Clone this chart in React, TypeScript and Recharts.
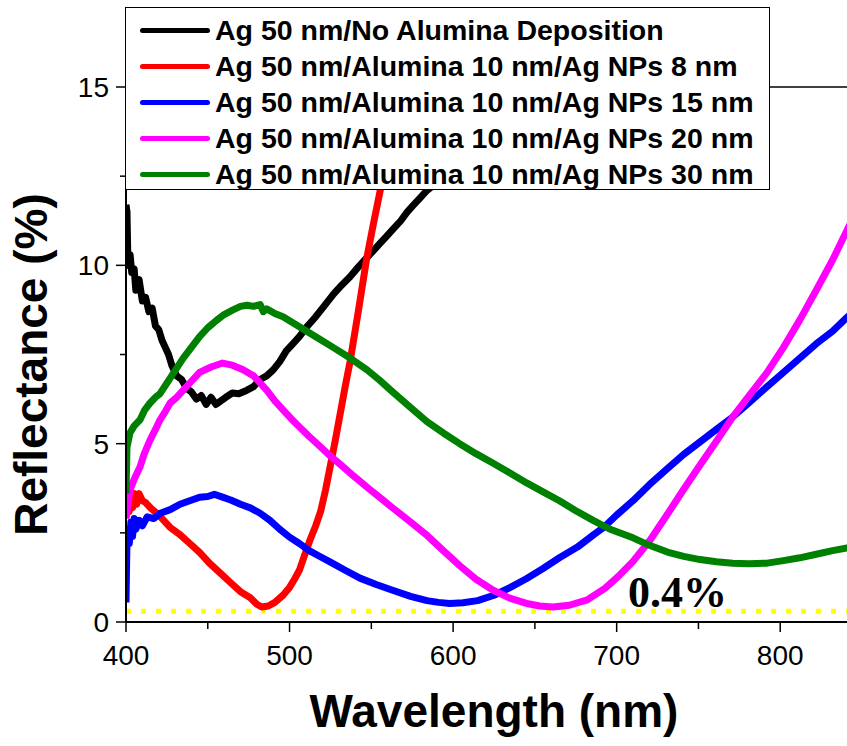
import React from 'react';
import { LineChart, Line, XAxis, YAxis, Legend, ReferenceLine, ReferenceDot, Label } from 'recharts';

// wavelengths (nm) and reflectance (%), one pair per sample
const wlBlack = [400, 400.6, 401.2, 402.5, 403.5, 405, 406, 408, 410, 412, 414, 416, 418, 420, 422, 424, 426, 428, 431, 434, 437, 440, 443, 446, 449, 452, 455, 458, 461, 465, 469, 474, 478, 482, 486, 490, 494, 498, 502, 506, 511, 516, 521, 527, 532, 537, 542, 547, 551, 555, 559, 563, 568, 572, 576, 580, 584, 600, 640, 680, 720];
const rBlack = [11.7, 11.5, 10.0, 10.3, 9.8, 9.9, 9.3, 9.6, 9.0, 9.1, 8.7, 8.8, 8.3, 8.2, 7.9, 7.7, 7.5, 7.2, 6.9, 6.8, 6.55, 6.45, 6.25, 6.35, 6.1, 6.3, 6.1, 6.2, 6.3, 6.42, 6.4, 6.5, 6.6, 6.8, 6.9, 7.07, 7.3, 7.6, 7.8, 8.0, 8.3, 8.56, 8.85, 9.2, 9.45, 9.68, 9.95, 10.2, 10.4, 10.6, 10.8, 11.0, 11.25, 11.5, 11.7, 11.9, 12.1, 12.7, 14.0, 15.3, 16.5];

const wlRed = [400, 401, 402, 403, 404, 405, 406.5, 408, 410, 412, 415, 420, 427, 433, 439, 445, 451, 457, 464, 470, 476, 480, 483, 487, 491, 496, 500, 503, 506, 509, 512.5, 516, 519, 522, 525, 528, 531, 534, 537, 542, 547, 551, 555, 560, 565, 570, 575];
const rRed = [3.0, 3.4, 3.1, 3.5, 3.2, 3.6, 3.3, 3.6, 3.4, 3.35, 3.2, 3.0, 2.65, 2.45, 2.2, 1.95, 1.65, 1.4, 1.1, 0.85, 0.68, 0.5, 0.42, 0.45, 0.55, 0.75, 0.97, 1.2, 1.45, 1.85, 2.3, 2.7, 3.1, 3.7, 4.4, 5.1, 5.85, 6.6, 7.3, 8.7, 10.15, 11.1, 12.0, 13.2, 14.4, 15.6, 16.8];

const wlBlue = [400, 400.5, 401, 402, 403, 404, 405, 406, 408, 410, 413, 417, 421, 427, 433, 439, 445, 450, 454, 459, 464, 470, 476, 482, 488, 494, 500, 506, 512, 518, 525, 534, 543, 553, 563, 574, 584, 591, 598, 606, 615, 625, 635, 645, 655, 665, 676, 686, 692, 700, 710, 720, 731, 741, 751, 761, 771, 781, 792, 802, 812, 822, 832, 841, 850];
const rBlue = [0.55, 2.0, 2.6, 2.2, 2.8, 2.4, 2.9, 2.6, 2.85, 2.7, 2.95, 2.9, 3.05, 3.15, 3.3, 3.4, 3.5, 3.52, 3.58, 3.5, 3.42, 3.3, 3.2, 3.05, 2.85, 2.6, 2.38, 2.2, 2.0, 1.85, 1.68, 1.45, 1.23, 1.05, 0.89, 0.72, 0.6, 0.55, 0.52, 0.54, 0.6, 0.75, 0.97, 1.22, 1.5, 1.8, 2.1, 2.45, 2.65, 3.0, 3.4, 3.85, 4.3, 4.7, 5.05, 5.4, 5.75, 6.15, 6.6, 7.0, 7.4, 7.8, 8.15, 8.55, 8.9];

const wlMagenta = [400, 400.6, 402.4, 405, 408.6, 411, 414.7, 418, 420.8, 424, 427, 431, 435, 440, 445, 452, 459, 465, 471.6, 478, 486, 491, 496, 501, 506, 512, 518.7, 525, 532, 539, 549, 556, 563, 573, 584, 594, 604, 614, 624.5, 635, 645, 653, 661, 671, 682, 693, 701, 710, 720.5, 730, 740.7, 751, 761.5, 771, 781, 792, 802, 812, 822, 832, 841, 850];
const rMagenta = [2.9, 3.1, 3.7, 4.0, 4.35, 4.7, 5.1, 5.4, 5.67, 5.9, 6.14, 6.3, 6.5, 6.75, 7.0, 7.15, 7.26, 7.2, 7.07, 6.9, 6.5, 6.2, 5.95, 5.7, 5.47, 5.2, 4.92, 4.65, 4.38, 4.1, 3.72, 3.46, 3.2, 2.84, 2.43, 2.0, 1.58, 1.2, 0.89, 0.66, 0.52, 0.45, 0.42, 0.47, 0.62, 0.95, 1.28, 1.7, 2.3, 2.95, 3.7, 4.4, 5.1, 5.75, 6.35, 7.0, 7.7, 8.47, 9.3, 10.15, 11.0, 11.8];

const wlGreen = [400, 400.6, 402.4, 405, 408.6, 411.5, 414.7, 418, 420.8, 425, 430, 435, 440, 445, 450, 455.7, 460, 465.4, 470, 474, 478, 482, 484, 486, 491, 496, 501, 506, 516, 526.6, 537, 547.4, 555, 563, 573, 584, 594, 604, 614, 624.5, 635, 645, 655, 665, 675, 685.6, 696, 703, 710, 720, 731, 741, 751, 761, 771, 781, 792, 802, 812, 822, 832, 841, 850];
const rGreen = [3.6, 4.9, 5.3, 5.5, 5.67, 5.95, 6.14, 6.3, 6.4, 6.7, 7.05, 7.4, 7.7, 8.0, 8.25, 8.47, 8.62, 8.75, 8.85, 8.88, 8.85, 8.9, 8.7, 8.78, 8.65, 8.56, 8.42, 8.28, 8.0, 7.7, 7.4, 7.07, 6.78, 6.45, 6.05, 5.62, 5.3, 5.0, 4.72, 4.45, 4.17, 3.9, 3.65, 3.4, 3.12, 2.85, 2.6, 2.48, 2.36, 2.15, 1.96, 1.84, 1.75, 1.69, 1.65, 1.63, 1.65, 1.72, 1.8, 1.9, 2.0, 2.08, 2.15];

const seriesNames = [
    'Ag 50 nm/No Alumina Deposition',
    'Ag 50 nm/Alumina 10 nm/Ag NPs 8 nm',
    'Ag 50 nm/Alumina 10 nm/Ag NPs 15 nm',
    'Ag 50 nm/Alumina 10 nm/Ag NPs 20 nm',
    'Ag 50 nm/Alumina 10 nm/Ag NPs 30 nm',
];
const COLORS = ['#000000', '#ff0000', '#0000ff', '#ff00ff', '#008000'];

const xTicks = [400, 450, 500, 550, 600, 650, 700, 750, 800, 850];
const yTicks = [0, 2.5, 5, 7.5, 10, 12.5, 15];
const minLevel = 0.3; // yellow dotted "0.4%" guide
const minLabelX = 707;

const FONT = 'Arial, "Liberation Sans", sans-serif';

const toPoints = (wl: number[], r: number[]) => wl.map((x, i) => ({ x, y: r[i] }));

const series = [
    toPoints(wlBlack, rBlack),
    toPoints(wlRed, rRed),
    toPoints(wlBlue, rBlue),
    toPoints(wlMagenta, rMagenta),
    toPoints(wlGreen, rGreen),
];

const XTick = ({ x, y, payload }: any) => {
    const major = payload.value % 100 === 0;
    return (
        <g>
            <line x1={x} y1={y} x2={x} y2={y + (major ? 10 : 7)} stroke="#000" strokeWidth={1.5} />
            {major && (
                <text x={x} y={y + 43} textAnchor="middle" fontSize={28} fontFamily={FONT} fill="#000">
                    {payload.value}
                </text>
            )}
        </g>
    );
};

const YTick = ({ x, y, payload }: any) => {
    const major = payload.value % 5 === 0;
    return (
        <g>
            <line x1={x - (major ? 10 : 6)} y1={y} x2={x} y2={y} stroke="#000" strokeWidth={1.5} />
            {major && (
                <text x={x - 17} y={y + 10} textAnchor="end" fontSize={28} fontFamily={FONT} fill="#000">
                    {payload.value}
                </text>
            )}
        </g>
    );
};

const LegendBox = () => (
    <div
        style={{
            width: 645,
            height: 183,
            boxSizing: 'border-box',
            border: '1.5px solid #000',
            background: '#fff',
            paddingTop: 4,
            fontFamily: FONT,
        }}
    >
        {seriesNames.map((name, i) => (
            <div key={name} style={{ height: 36, display: 'flex', alignItems: 'center' }}>
                <div style={{ width: 70, height: 5, borderRadius: 3, background: COLORS[i], marginLeft: 14, marginRight: 5 }} />
                <span style={{ fontSize: 28.5, fontWeight: 'bold', color: '#000', whiteSpace: 'nowrap' }}>{name}</span>
            </div>
        ))}
    </div>
);

const App = () => {
    return (
        <div style={{ position: 'absolute', left: 0, top: 0, width: 847, height: 746, overflow: 'hidden', background: '#fff' }}>
            <LineChart width={900} height={746} margin={{ top: 87, right: 38, bottom: 0, left: 0 }}>
                <XAxis
                    dataKey="x"
                    type="number"
                    domain={[400, 850]}
                    allowDataOverflow
                    ticks={xTicks}
                    interval={0}
                    tickSize={0}
                    tickMargin={0}
                    tickLine={false}
                    tick={<XTick />}
                    height={124}
                    axisLine={{ stroke: '#000', strokeWidth: 2 }}
                >
                    <Label
                        content={({ viewBox }: any) => (
                            <text
                                x={viewBox.x + viewBox.width / 2}
                                y={viewBox.y + 105}
                                textAnchor="middle"
                                fontSize={46}
                                fontWeight="bold"
                                fontFamily={FONT}
                                fill="#000"
                            >
                                Wavelength (nm)
                            </text>
                        )}
                    />
                </XAxis>
                <YAxis
                    type="number"
                    domain={[0, 15]}
                    allowDataOverflow
                    ticks={yTicks}
                    interval={0}
                    tickSize={0}
                    tickMargin={0}
                    tickLine={false}
                    tick={<YTick />}
                    width={126}
                    axisLine={{ stroke: '#000', strokeWidth: 2 }}
                >
                    <Label
                        content={({ viewBox }: any) => {
                            const cx = 47;
                            const cy = viewBox.y + viewBox.height / 2 + 10;
                            return (
                                <text
                                    x={cx}
                                    y={cy}
                                    transform={`rotate(-90, ${cx}, ${cy})`}
                                    textAnchor="middle"
                                    fontSize={46}
                                    fontWeight="bold"
                                    fontFamily={FONT}
                                    fill="#000"
                                >
                                    Reflectance (%)
                                </text>
                            );
                        }}
                    />
                </YAxis>
                <ReferenceLine y={15} stroke="#000" strokeWidth={1.5} />
                <ReferenceLine y={minLevel} stroke="#ffff00" strokeWidth={5} strokeDasharray="5 10" />
                {series.map((data, i) => (
                    <Line
                        key={seriesNames[i]}
                        data={data}
                        dataKey="y"
                        name={seriesNames[i]}
                        stroke={COLORS[i]}
                        strokeWidth={7}
                        strokeLinejoin="round"
                        dot={false}
                        type="linear"
                        isAnimationActive={false}
                    />
                ))}
                <ReferenceDot
                    x={minLabelX}
                    y={minLevel}
                    r={1}
                    fill="none"
                    stroke="none"
                    label={({ viewBox }: any) => (
                        <text
                            x={viewBox.x + 1}
                            y={viewBox.y - 3}
                            fontSize={44}
                            fontWeight="bold"
                            fontFamily='"Times New Roman", "Liberation Serif", serif'
                            fill="#000"
                        >
                            0.4%
                        </text>
                    )}
                />
                <Legend
                    layout="horizontal"
                    verticalAlign="middle"
                    align="center"
                    content={<LegendBox />}
                    wrapperStyle={{ left: 125, top: 7, width: 'auto', height: 'auto' }}
                />
            </LineChart>
        </div>
    );
};

export default App;
